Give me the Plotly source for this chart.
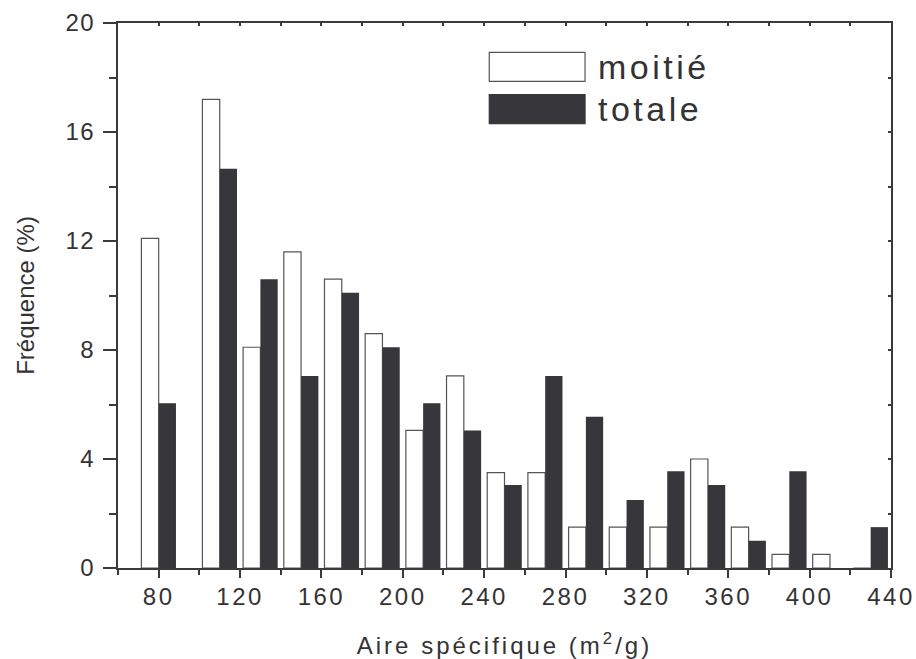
import plotly.graph_objects as go

# ---- data ----
centres = [80, 110, 130, 150, 170, 190, 210, 230, 250, 270, 290, 310, 330, 350, 370, 390, 410, 430]
moitie = [12.1, 17.2, 8.1, 11.6, 10.6, 8.6, 5.05, 7.05, 3.5, 3.5, 1.5, 1.5, 1.5, 4.0, 1.5, 0.5, 0.5, 0.0]
totale = [6.05, 14.65, 10.6, 7.05, 10.1, 8.1, 6.05, 5.05, 3.05, 7.05, 5.55, 2.5, 3.55, 3.05, 1.0, 3.55, 0.0, 1.5]
series_names = ["moitié", "totale"]
x_ticks = [80, 120, 160, 200, 240, 280, 320, 360, 400, 440]
x_tick_labels = ["80", "120", "160", "200", "240", "280", "320", "360", "400", "440"]
y_ticks = [0, 4, 8, 12, 16, 20]
y_tick_labels = ["0", "4", "8", "12", "16", "20"]
x_title = "Aire spécifique (m<sup>2</sup>/g)"
y_title = "Fréquence (%)"

# ---- styling ----
FONT = "Liberation Sans, Arial, Helvetica, sans-serif"
TXT = "#333333"
AX = "#3a393e"
DARK = "#37363b"
BAR_W = 8.5


def spaced(s, px):
    return f'<span style="letter-spacing:{px}px">{s}</span>'


fig = go.Figure()
fig.add_trace(go.Bar(
    x=centres, y=moitie, name=series_names[0], width=BAR_W, offset=-BAR_W,
    marker=dict(color="white", line=dict(color="#555555", width=1.2)),
    showlegend=False,
))
fig.add_trace(go.Bar(
    x=centres, y=totale, name=series_names[1], width=BAR_W, offset=0,
    marker=dict(color=DARK, line=dict(width=0)),
    showlegend=False,
))
# empty trace so that the top/right tick axes are drawn
fig.add_trace(go.Scatter(x=[], y=[], xaxis="x2", yaxis="y2", showlegend=False, hoverinfo="skip"))

# manual legend (large boxes like the reference)
leg_boxes = [(0.4803, 0.6042, 0.8929, 0.9460, "white", "#555555"),
             (0.4803, 0.6042, 0.8152, 0.8686, DARK, DARK)]
for (x0, x1, y0, y1, fc, lc), name in zip(leg_boxes, series_names):
    fig.add_shape(type="rect", xref="paper", yref="paper", x0=x0, x1=x1, y0=y0, y1=y1,
                  fillcolor=fc, line=dict(color=lc, width=1.2))
    fig.add_annotation(xref="paper", yref="paper", x=0.619, y=(y0 + y1) / 2,
                       xanchor="left", yanchor="middle", showarrow=False,
                       text=spaced(name, 3.5), font=dict(family=FONT, size=34, color=TXT))

fig.update_layout(
    width=916, height=659,
    margin=dict(l=118, r=25, t=23, b=91, autoexpand=False),
    paper_bgcolor="white", plot_bgcolor="white",
    barmode="overlay",
    font=dict(family=FONT, color=TXT),
    xaxis=dict(
        range=[60, 440], showgrid=False, zeroline=False, automargin=False,
        showline=True, mirror=True, linecolor=AX, linewidth=2,
        tickmode="array", tickvals=x_ticks, ticktext=[spaced(t, 2.5) for t in x_tick_labels],
        ticks="outside", ticklen=8, tickwidth=2, tickcolor=AX,
        minor=dict(dtick=20, tick0=0, ticks="outside", ticklen=5, tickwidth=2, tickcolor=AX),
        tickfont=dict(family=FONT, size=24, color=TXT),
        ticklabelstandoff=-2, ticklabeloverflow="allow",
        title=dict(text=spaced(x_title, 3), font=dict(family=FONT, size=24, color=TXT), standoff=30),
    ),
    yaxis=dict(
        range=[0, 20], showgrid=False, zeroline=False, automargin=False,
        showline=True, mirror=True, linecolor=AX, linewidth=2,
        tickmode="array", tickvals=y_ticks, ticktext=[spaced(t, 1.5) for t in y_tick_labels],
        ticks="outside", ticklen=13, tickwidth=2, tickcolor=AX,
        minor=dict(dtick=2, tick0=0, ticks="outside", ticklen=7, tickwidth=2, tickcolor=AX),
        tickfont=dict(family=FONT, size=24, color=TXT),
        ticklabelstandoff=3, ticklabeloverflow="allow",
        title=dict(text=y_title, font=dict(family=FONT, size=24, color=TXT), standoff=24),
    ),
    xaxis2=dict(
        overlaying="x", matches="x", side="top", anchor="y2", automargin=False,
        showline=False, showgrid=False, zeroline=False,
        tickmode="linear", tick0=0, dtick=20, ticks="inside", ticklen=3, tickwidth=2, tickcolor=AX,
        showticklabels=False,
    ),
    yaxis2=dict(
        overlaying="y", matches="y", side="right", anchor="x2", automargin=False,
        showline=False, showgrid=False, zeroline=False,
        tickmode="linear", tick0=0, dtick=2, ticks="inside", ticklen=3, tickwidth=2, tickcolor=AX,
        showticklabels=False,
    ),
)

fig.write_html("out.html", config={"displayModeBar": False},
               post_script="document.body.style.margin='0';")
